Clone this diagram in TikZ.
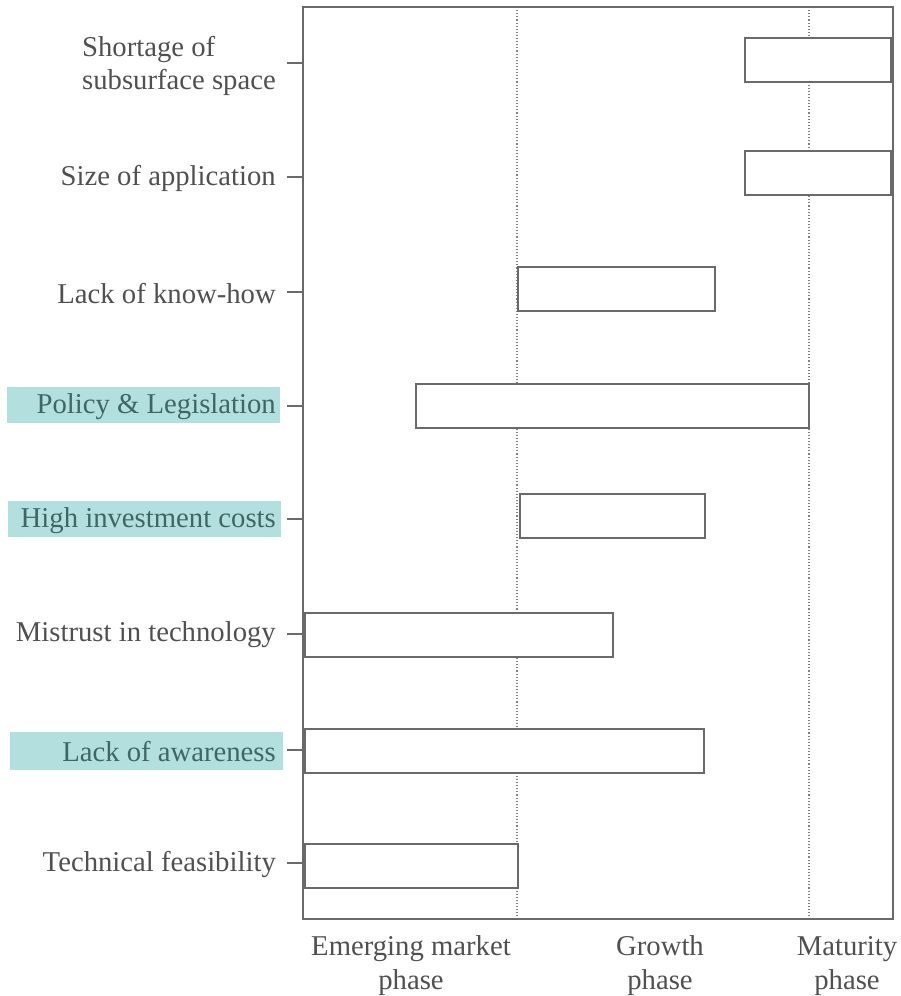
\documentclass[tikz,border=0pt]{standalone}
\usepackage{fontspec}
\setmainfont{Liberation Serif}
\definecolor{txt}{HTML}{505050}
\definecolor{ln}{HTML}{6A6A6A}
\definecolor{hl}{HTML}{B3E0DF}
\definecolor{hltxt}{HTML}{3F6664}
\tikzset{
  lab/.style={anchor=east, font=\fontsize{28.7}{32}\selectfont, text=txt, inner sep=0pt},
  bar/.style={draw=ln, line width=1.3pt, fill=white},
  tick/.style={draw=ln, line width=2pt},
  phase/.style={align=center, font=\fontsize{28.7}{34}\selectfont, text=txt, inner sep=0pt},
  vdot/.style={draw=ln!85, line width=1.1pt, dotted}
}
\begin{document}
\begin{tikzpicture}[x=1pt,y=-1pt]
\useasboundingbox (0,0) rectangle (900,996);
% highlight boxes
\fill[hl] (7,387) rectangle (280,423);
\fill[hl] (8,501) rectangle (281,537);
\fill[hl] (10,732) rectangle (283,770);
% dotted phase lines
\draw[vdot] (517,7) -- (517,919);
\draw[vdot] (809,7) -- (809,919);
% frame
\draw[ln, line width=2pt] (303,7) rectangle (893,919);
% bars
\draw[bar] (745,38) rectangle (891,82);
\draw[bar] (745,151) rectangle (891,195);
\draw[bar] (518,267) rectangle (715,311);
\draw[bar] (416,384) rectangle (809,428);
\draw[bar] (520,494) rectangle (705,538);
\draw[bar] (305,613) rectangle (613,657);
\draw[bar] (305,729) rectangle (704,773);
\draw[bar] (305,844) rectangle (518,888);
% ticks and labels
\foreach \y/\n in {63/t1,177/t2,292/t3,406/t4,519/t5,634/t6,750/t7,863/t8}{
  \coordinate (\n) at (303,\y);
  \draw[tick] (287,\y) -- (\n);
}
\node[lab, align=left, anchor=east] (l1) at (276,66) {Shortage of\\[1pt]subsurface space};
\node[lab] (l2) at (276,178) {Size of application};
\node[lab] (l3) at (276,294) {Lack of know-how};
\node[lab, text=hltxt] (l4) at (276,407) {Policy \& Legislation};
\node[lab, text=hltxt] (l5) at (276,521) {High investment costs};
\node[lab] (l6) at (276,635) {Mistrust in technology};
\node[lab, text=hltxt] (l7) at (276,752) {Lack of awareness};
\node[lab] (l8) at (276,864) {Technical feasibility};
% phases
\node[phase] (p1) at (411,966) {Emerging market\\phase};
\node[phase] (p2) at (660,966) {Growth\\phase};
\node[phase] (p3) at (847,966) {Maturity\\phase};
\end{tikzpicture}
\end{document}
